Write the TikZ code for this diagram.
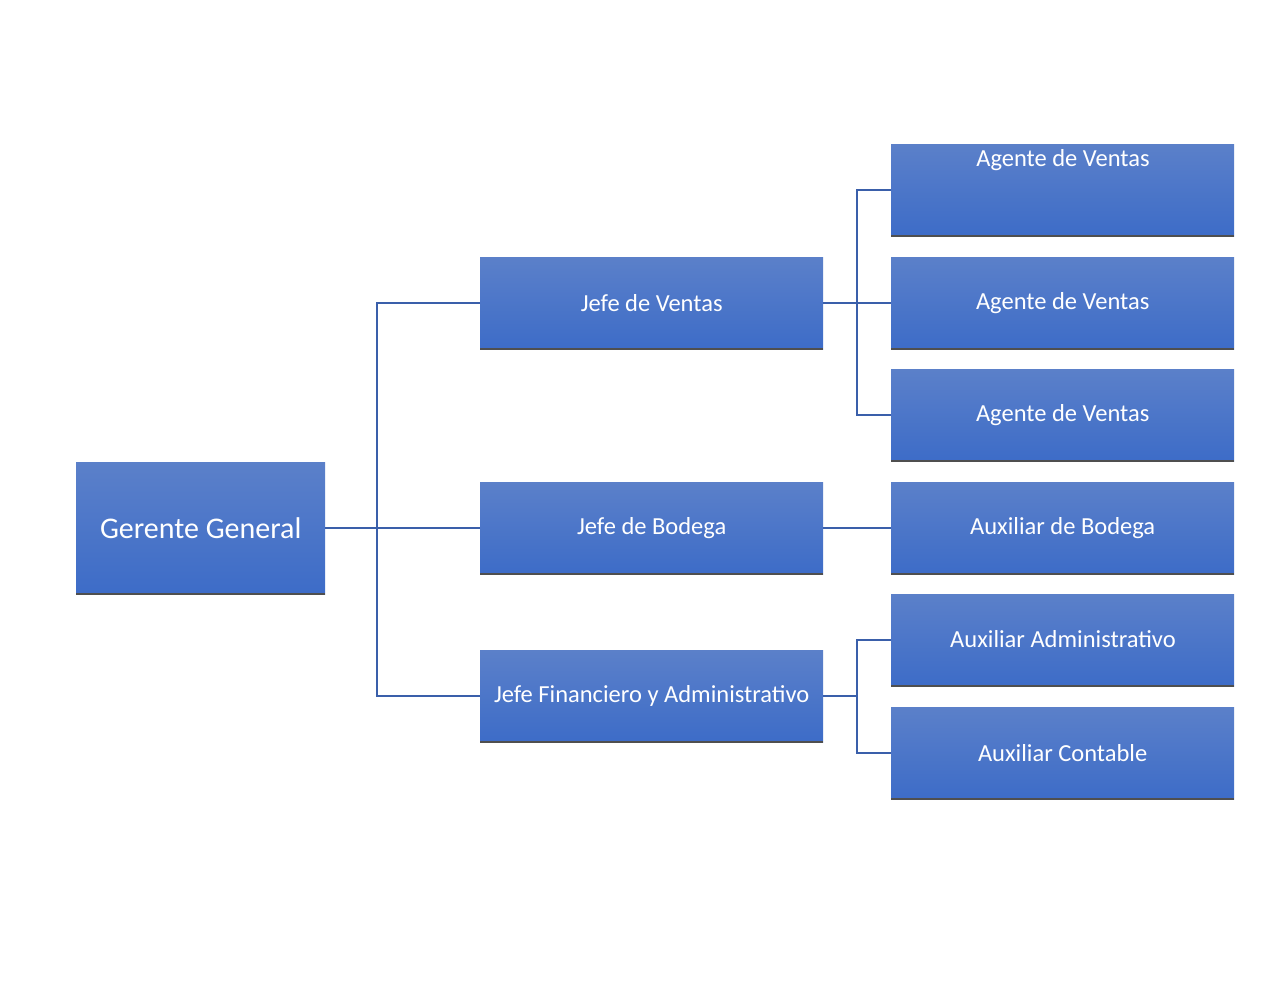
\documentclass[tikz,border=0pt]{standalone}
\usepackage{fontspec}
\setmainfont{Carlito}
\definecolor{boxtop}{HTML}{5B80C9}
\definecolor{boxbot}{HTML}{3D6CC8}
\definecolor{linec}{HTML}{3A5FAA}
\definecolor{shadowc}{HTML}{4F4F4F}
\begin{document}
\begin{tikzpicture}[x=1pt,y=-1pt,
  box/.style={minimum width=343pt, minimum height=92pt, inner sep=0pt, anchor=north west,
    top color=boxtop, bottom color=boxbot, draw=none, text=white, font=\fontsize{24.5}{28}\selectfont},
  lbl/.style={text=white, font=\fontsize{24.5}{28}\selectfont, inner sep=0pt},
  conn/.style={draw=linec, line width=1.6pt},
  base/.style={draw=shadowc, line width=2pt}]
\useasboundingbox (0,0) rectangle (1280,989);
% boxes
\node[box, minimum width=249pt, minimum height=132pt, font=\fontsize{30}{34}\selectfont] (gg) at (76,462) {Gerente General};
\node[box] (jv) at (480,257) {Jefe de Ventas};
\node[box] (jb) at (480,482) {Jefe de Bodega};
\node[box] (jf) at (480,650) {Jefe Financiero y Administrativo};
\node[box] (a1) at (891,144) {};
\node[lbl] (a1t) at (1063,160) {Agente de Ventas};
\node[box] (a2) at (891,257) {Agente de Ventas};
\node[box] (a3) at (891,369) {Agente de Ventas};
\node[box] (ab) at (891,482) {Auxiliar de Bodega};
\node[box] (aa) at (891,594) {};
\node[lbl] (aat) at (1063,639) {Auxiliar Administrativo};
\node[box] (ac) at (891,707) {Auxiliar Contable};
% bottom edges
\foreach \n in {gg,jv,jb,jf,a1,a2,a3,ab,aa,ac}{
  \draw[base] (\n.south west) -- (\n.south east);
}
% connectors
\coordinate (c1) at (gg.east -| 377,0);
\draw[conn] (gg.east) -- (jb.west);
\draw[conn] (jv.west) -| (c1) |- (jf.west);
\coordinate (c2) at (jv.east -| 857,0);
\draw[conn] (jv.east) -- (a2.west);
\draw[conn] (a1.west) -| (c2) |- (a3.west);
\draw[conn] (jb.east) -- (ab.west);
\coordinate (c3) at (jf.east -| 857,0);
\draw[conn] (jf.east) -- (c3);
\draw[conn] (aa.west) -| (c3) |- (ac.west);
\end{tikzpicture}
\end{document}
